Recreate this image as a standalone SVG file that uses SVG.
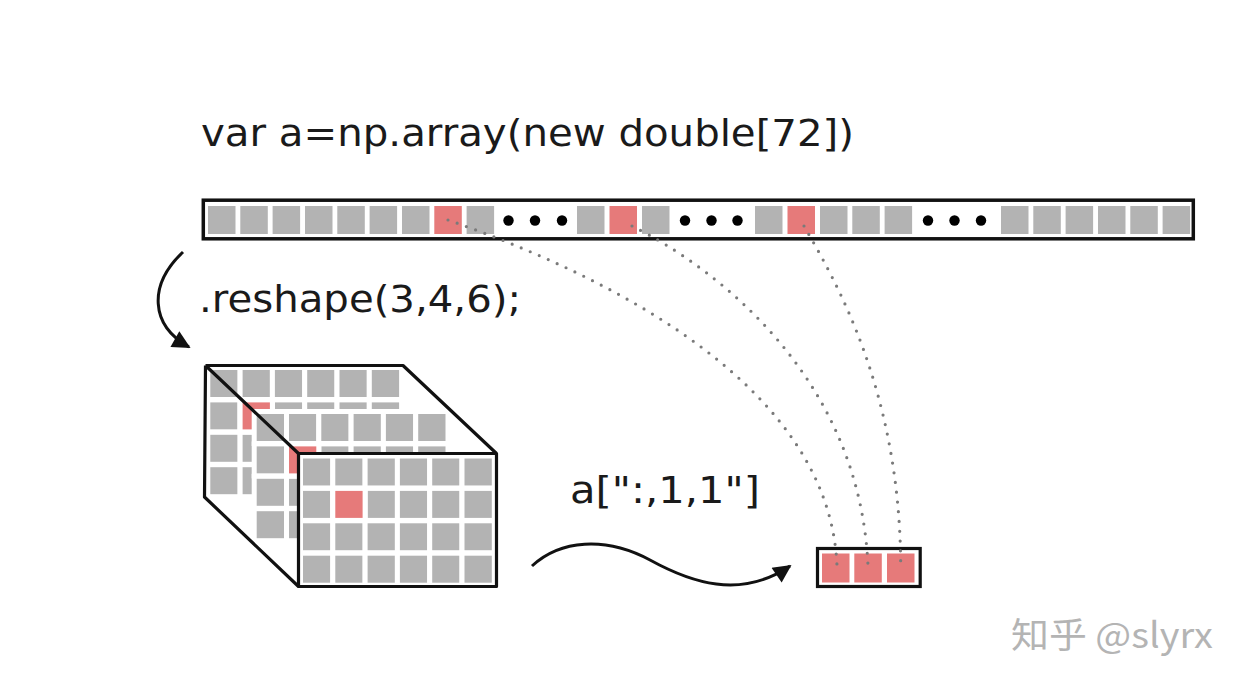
<svg xmlns="http://www.w3.org/2000/svg" width="1246" height="690" viewBox="0 0 1246 690">
<defs>
<style>
.t{font-family:"DejaVu Sans","Noto Sans",sans-serif;fill:#1a1a1a}
.g{fill:#b3b3b3}
.r{fill:#e67a7a}
.cell{fill:#b3b3b3;stroke:#fff;stroke-width:10;paint-order:stroke}
.rc{fill:#e67a7a;stroke:#fff;stroke-width:10;paint-order:stroke}
.dot{fill:#000}
.edge{fill:none;stroke:#111;stroke-width:3.2;stroke-linejoin:round}
.arr{fill:none;stroke:#111;stroke-width:3}
.dl{fill:none;stroke:#7a7a7a;stroke-width:3.2;stroke-linecap:round;stroke-dasharray:0 9.8}
</style>
<marker id="ah" viewBox="0 0 10 10" refX="9" refY="5" markerUnits="userSpaceOnUse" markerWidth="21" markerHeight="18" orient="auto">
<path d="M0,0 L10,5 L0,10 z" fill="#111"/>
</marker>
<g id="row6" class="cell">
<rect x="0" y="0" width="27.3" height="27"/>
<rect x="32.3" y="0" width="27.3" height="27"/>
<rect x="64.6" y="0" width="27.3" height="27"/>
<rect x="96.9" y="0" width="27.3" height="27"/>
<rect x="129.2" y="0" width="27.3" height="27"/>
<rect x="161.5" y="0" width="27.3" height="27"/>
</g>
</defs>
<rect width="1246" height="690" fill="#fff"/>

<g id="title">
<text class="t" x="201" y="146" font-size="38" textLength="653" lengthAdjust="spacingAndGlyphs">var a=np.array(new double[72])</text>
</g>

<g id="flat-array">
<rect x="203.3" y="200.2" width="990" height="38.6" fill="#fff" stroke="#111" stroke-width="3.5"/>
<g class="g">
<rect x="208" y="206" width="27.5" height="28"/>
<rect x="240.3" y="206" width="27.5" height="28"/>
<rect x="272.6" y="206" width="27.5" height="28"/>
<rect x="305" y="206" width="27.5" height="28"/>
<rect x="337.3" y="206" width="27.5" height="28"/>
<rect x="369.6" y="206" width="27.5" height="28"/>
<rect x="402" y="206" width="27.5" height="28"/>
<rect x="434.3" y="206" width="27.5" height="28" class="r"/>
<rect x="466.6" y="206" width="27.5" height="28"/>
<rect x="577" y="206" width="27.5" height="28"/>
<rect x="609.5" y="206" width="27.5" height="28" class="r"/>
<rect x="642" y="206" width="27.5" height="28"/>
<rect x="755" y="206" width="27.5" height="28"/>
<rect x="787.5" y="206" width="27.5" height="28" class="r"/>
<rect x="820" y="206" width="27.5" height="28"/>
<rect x="852.3" y="206" width="27.5" height="28"/>
<rect x="884.6" y="206" width="27.5" height="28"/>
<rect x="1001" y="206" width="27.5" height="28"/>
<rect x="1033.3" y="206" width="27.5" height="28"/>
<rect x="1065.6" y="206" width="27.5" height="28"/>
<rect x="1098" y="206" width="27.5" height="28"/>
<rect x="1130.3" y="206" width="27.5" height="28"/>
<rect x="1162.6" y="206" width="27.5" height="28"/>
</g>
<g class="dot">
<circle cx="508.5" cy="220.5" r="5.2"/>
<circle cx="535" cy="220.5" r="5.2"/>
<circle cx="562" cy="220.5" r="5.2"/>
<circle cx="685" cy="220.5" r="5.2"/>
<circle cx="711.5" cy="220.5" r="5.2"/>
<circle cx="737.5" cy="220.5" r="5.2"/>
<circle cx="928" cy="220.5" r="5.2"/>
<circle cx="954.5" cy="220.5" r="5.2"/>
<circle cx="981" cy="220.5" r="5.2"/>
</g>
</g>

<g id="reshape-label">
<text class="t" x="199" y="312" font-size="38" textLength="322" lengthAdjust="spacingAndGlyphs">.reshape(3,4,6);</text>
</g>

<g id="cube">
<g transform="translate(210.3,370)">
<use href="#row6"/>
<use href="#row6" y="32.4"/>
<use href="#row6" y="64.8"/>
<use href="#row6" y="97.2"/>
<rect x="32.3" y="32.4" width="27.3" height="27" class="rc"/>
</g>
<g transform="translate(256.7,414)">
<use href="#row6"/>
<use href="#row6" y="32.4"/>
<use href="#row6" y="64.8"/>
<use href="#row6" y="97.2"/>
<rect x="32.3" y="32.4" width="27.3" height="27" class="rc"/>
</g>
<rect x="298.5" y="453.5" width="198" height="133" fill="#fff"/>
<g transform="translate(303,458.5)">
<use href="#row6"/>
<use href="#row6" y="32.4"/>
<use href="#row6" y="64.8"/>
<use href="#row6" y="97.2"/>
<rect x="32.3" y="32.4" width="27.3" height="27" class="rc"/>
</g>
<path class="edge" d="M205.5,365.5 L403,365.5 L496.5,453.5 M205.5,365.5 L298.5,453.5 M205.5,365.5 L204.5,497 L298.5,586.5"/>
<rect class="edge" x="298.5" y="453.5" width="198" height="133"/>
</g>

<g id="index-label">
<text class="t" x="570" y="503" font-size="38" textLength="190" lengthAdjust="spacingAndGlyphs">a[":,1,1"]</text>
</g>

<g id="result">
<rect x="817.5" y="548.5" width="102.7" height="38" fill="#fff" stroke="#111" stroke-width="3.2"/>
<rect x="822" y="553.5" width="27.5" height="29" class="r"/>
<rect x="854.3" y="553.5" width="27.5" height="29" class="r"/>
<rect x="887" y="553.5" width="27.5" height="29" class="r"/>
</g>

<g id="connectors">
<path class="arr" d="M183,252 C 148,285 150,325 189,347" marker-end="url(#ah)"/>
<path class="arr" d="M532,566 C 560,540 605,536 650,560 C 690,582 740,600 790,566" marker-end="url(#ah)"/>
<path class="dl" d="M448,220 C 620,280 830,390 837,566"/>
<path class="dl" d="M632,226 C 720,270 860,380 868,566"/>
<path class="dl" d="M804,226 C 835,280 900,390 900.7,566"/>
</g>

<g id="watermark">
<text x="1011" y="648" font-size="35" fill="#b4b4b4" font-family="'Noto Sans CJK SC','Noto Sans',sans-serif" textLength="202" lengthAdjust="spacingAndGlyphs">知乎 @slyrx</text>
</g>
</svg>
